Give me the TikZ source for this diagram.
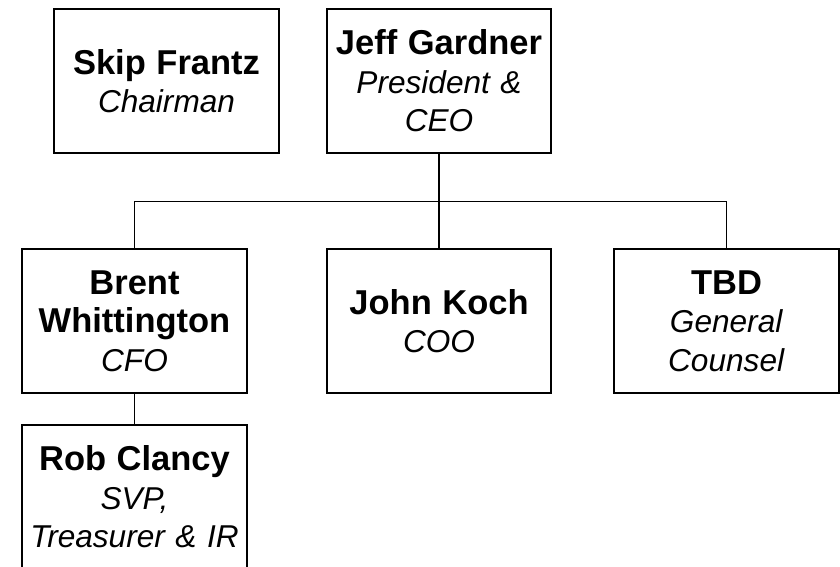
\documentclass[tikz,border=0pt]{standalone}
\usepackage{fontspec}
\setmainfont{Liberation Sans}
\begin{document}
\begin{tikzpicture}[x=1pt,y=1pt,
  person/.style={draw=black, line width=1.6pt, fill=white, rectangle,
    minimum width=225pt, minimum height=144pt, inner sep=0pt, outer sep=0pt,
    align=center, text width=225pt, font=\fontsize{31.6}{38.5}\selectfont},
  link/.style={draw=black, line width=1.2pt},
  toplink/.style={draw=black, line width=2.2pt}]
\useasboundingbox (0,0) rectangle (840,-566);
\newcommand{\pname}[1]{{\fontsize{34.5}{38.5}\selectfont\bfseries #1}}
\node[person] (skip) at (166.5,-81) {\pname{Skip Frantz}\\ \textit{Chairman}};
\node[person, minimum width=224pt, text width=224pt] (jeff) at (439,-81) {\pname{Jeff Gardner}\\ \textit{President \&}\\ \textit{CEO}};
\node[person] (brent) at (134.5,-321) {\pname{Brent}\\ \pname{Whittington}\\ \textit{CFO}};
\node[person, minimum width=224pt, text width=224pt] (john) at (439,-321) {\pname{John Koch}\\ \textit{COO}};
\node[person] (tbd) at (726.5,-321) {\pname{TBD}\\ \textit{General}\\ \textit{Counsel}};
\node[person] (rob) at (134.5,-497) {\pname{Rob Clancy}\\ \textit{SVP,}\\ \textit{Treasurer \& IR}};
\coordinate (bus) at (0,-201.5);
\draw[toplink] (jeff.south) -- (jeff.south |- bus);
\draw[link] (brent.north) -- (brent.north |- bus) -- (tbd.north |- bus) -- (tbd.north);
\draw[link] (john.north |- bus) -- (john.north);
\draw[link] (brent.south) -- (rob.north);
\end{tikzpicture}
\end{document}
